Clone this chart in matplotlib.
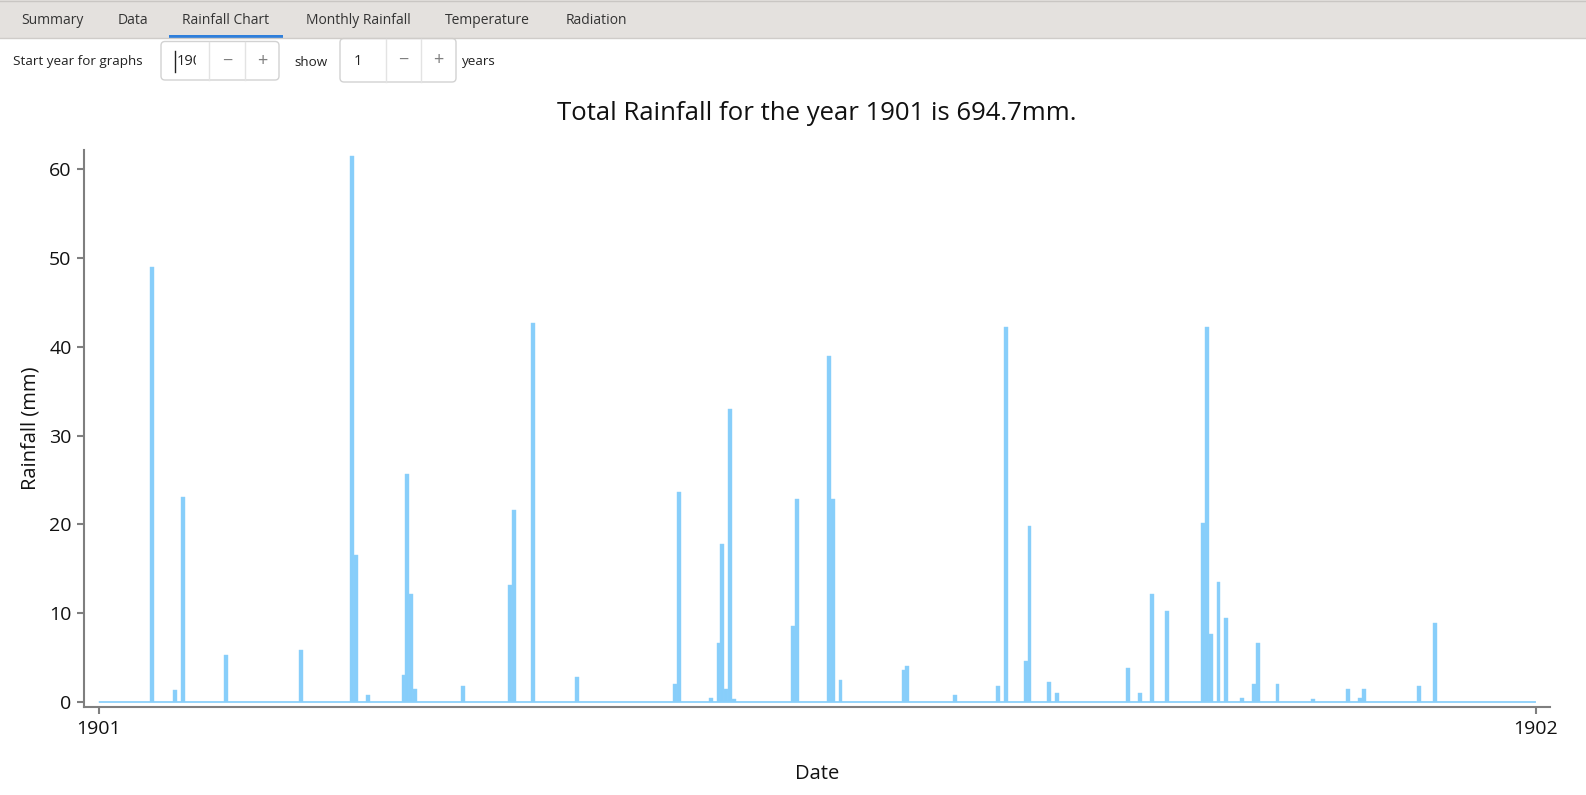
import numpy as np
import matplotlib
matplotlib.use("Agg")
import matplotlib.pyplot as plt
from matplotlib.patches import Rectangle, FancyBboxPatch
from matplotlib.transforms import Bbox, TransformedBbox

# daily rainfall for 1901: day of year (0 = 1 Jan) and amount in mm
rain_days = [13, 19, 21, 32, 51, 64, 65, 68, 77, 78, 79, 80, 92, 104, 105, 110,
             121, 146, 147, 155, 157, 158, 159, 160, 161, 176, 177, 185, 186, 188,
             204, 205, 217, 228, 230, 235, 236, 241, 243, 261, 264, 267, 271,
             280, 281, 282, 284, 286, 290, 293, 294, 299, 308, 317, 320, 321,
             335, 339]
rain_mm = [49.0, 1.3, 23.1, 5.3, 5.8, 61.5, 16.5, 0.8, 3.0, 25.7, 12.2, 1.5, 1.8,
           13.2, 21.6, 42.7, 2.8, 2.0, 23.6, 0.5, 6.6, 17.8, 1.5, 33.0, 0.3, 8.6,
           22.9, 38.9, 22.9, 2.5, 3.6, 4.1, 0.8, 1.8, 42.2, 4.6, 19.8, 2.3, 1.0,
           3.8, 1.0, 12.2, 10.2, 20.1, 42.2, 7.6, 13.5, 9.4, 0.5, 2.0, 6.6, 2.0,
           0.3, 1.5, 0.5, 1.5, 1.8, 8.9]
year = 1901
n_days = 365
total_mm = 694.7
tabs = ["Summary", "Data", "Rainfall Chart", "Monthly Rainfall", "Temperature", "Radiation"]
tab_x = [52, 132.5, 225.5, 358, 487.5, 596]

rain = np.zeros(n_days)
rain[rain_days] = rain_mm

W, H = 1586, 795
fig = plt.figure(figsize=(W / 100, H / 100), dpi=100)
fig.patch.set_facecolor("white")
font = ["Open Sans", "DejaVu Sans"]

# chart axes
ax = fig.add_axes([84 / W, 1 - 707 / H, (1550 - 84) / W, (707 - 150) / H])
ax.hlines(0, 0, n_days, color="#87cefa", lw=1.2)
ax.bar(np.arange(n_days) - 0.15, rain, width=1.0, align="edge",
       color="#87cefa", edgecolor="#8fd1fa", linewidth=0.3)
ax.set_xlim(-3.81, 368.56)
ax.set_ylim(-0.563, 62.14)
for s in ["top", "right"]:
    ax.spines[s].set_visible(False)
for s in ["left", "bottom"]:
    ax.spines[s].set_color("#7f7f7f")
    ax.spines[s].set_linewidth(1.5)
ax.set_yticks(np.arange(0, 61, 10))
ax.set_xticks([0, n_days])
ax.set_xticklabels([str(year), str(year + 1)])
ax.tick_params(axis="both", direction="out", length=5, width=1.5, color="#7f7f7f",
               labelsize=14, labelcolor="#111111", pad=4)
for lab in ax.get_xticklabels() + ax.get_yticklabels():
    lab.set_family(font)
ax.set_xlabel("Date", fontsize=14.5, family=font, color="#111111", labelpad=19)
ax.set_ylabel("Rainfall (mm)", fontsize=14.5, family=font, color="#111111", labelpad=6)

fig.text(817 / W, 1 - 114 / H, f"Total Rainfall for the year {year} is {total_mm}mm.",
         ha="center", va="center", fontsize=18.5, family=font, color="#111111")

# UI overlay in pixel coordinates
ui = fig.add_axes([0, 0, 1, 1])
ui.set_xlim(0, W)
ui.set_ylim(H, 0)
ui.axis("off")
ui.patch.set_alpha(0)

ui.add_patch(Rectangle((0, 0), W, 37.5, facecolor="#e4e1de", edgecolor="none"))
ui.plot([0, W], [37.5, 37.5], color="#cfccc9", lw=1)
ui.plot([0, W], [0.5, 0.5], color="#c9c6c3", lw=1)
for t, x in zip(tabs, tab_x):
    ui.text(x, 21, t, ha="center", va="center", fontsize=10, family=font, color="#333333")
ui.add_patch(Rectangle((169, 34.5), 114, 3, facecolor="#2f7fdb", edgecolor="none"))

ui.text(13, 62, "Start year for graphs", ha="left", va="center", fontsize=9.7,
        family=font, color="#222222")
ui.text(294, 62, "show", ha="left", va="center", fontsize=9.7, family=font, color="#222222")
ui.text(462, 62, "years", ha="left", va="center", fontsize=9.7, family=font, color="#222222")

boxes = [(161, 41.5, 118, 38.5, 209.4, 244.8, "1901", 177),
         (340, 38.5, 116, 43.5, 386, 421, "1", 354)]
for bx, by, bw, bh, s1, s2, val, tx in boxes:
    ui.add_patch(FancyBboxPatch((bx, by), bw, bh, boxstyle="round,pad=0,rounding_size=4",
                                facecolor="white", edgecolor="#d2d2d2", lw=1))
    ui.plot([s1, s1], [by, by + bh], color="#e3e3e3", lw=1)
    ui.plot([s2, s2], [by, by + bh], color="#e3e3e3", lw=1)
    ui.text((s1 + s2) / 2, by + bh / 2, "\u2212", ha="center", va="center",
            fontsize=13, family=font, color="#808080")
    ui.text((s2 + bx + bw) / 2, by + bh / 2, "+", ha="center", va="center",
            fontsize=13, family=font, color="#808080")
    t = ui.text(tx, by + bh / 2 + 1, val, ha="left", va="center", fontsize=10.5,
                family=font, color="#222222")
    # input field is narrow, so the value gets cut off like in the app
    t.set_clip_on(True)
    t.set_clip_box(TransformedBbox(Bbox([[bx, by], [s1 - 13, by + bh]]), ui.transData))
ui.plot([175, 175], [51, 72], color="#222222", lw=1)

fig.savefig("out.png", dpi=100, facecolor="white")
